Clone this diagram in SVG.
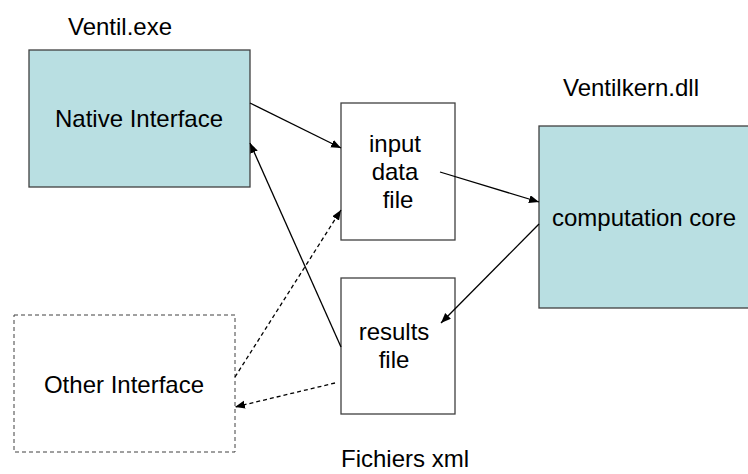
<svg xmlns="http://www.w3.org/2000/svg" width="748" height="474" viewBox="0 0 748 474">
<style>
text{font-family:"Liberation Sans",Arial,sans-serif;font-size:24px;fill:#000}
.core{fill:#b9dfe2;stroke:#404040;stroke-width:1.3}
.file{fill:#fff;stroke:#404040;stroke-width:1.3}
.other{fill:#fff;stroke:#404040;stroke-width:1;stroke-dasharray:4,3}
.c{fill:none;stroke:#000;stroke-width:1.3;marker-end:url(#ah)}
.d{stroke-dasharray:4,3}
</style>
<defs>
<marker id="ah" markerUnits="userSpaceOnUse" markerWidth="12" markerHeight="10" refX="10" refY="4" orient="auto">
<path d="M0,0 L10,4 L0,8 z" fill="#000"/>
</marker>
</defs>
<text x="120" y="35" text-anchor="middle">Ventil.exe</text>
<text x="631" y="96" text-anchor="middle">Ventilkern.dll</text>
<text x="405" y="467" text-anchor="middle" font-size="23">Fichiers xml</text>
<g id="native">
<rect class="core" x="29" y="50" width="221" height="137"/>
<text x="139" y="127" text-anchor="middle">Native Interface</text>
</g>
<g id="input">
<rect class="file" x="341" y="103" width="114" height="137"/>
<text x="395" y="152" text-anchor="middle">input</text>
<text x="395" y="180" text-anchor="middle">data</text>
<text x="398" y="208" text-anchor="middle">file</text>
</g>
<g id="core">
<rect class="core" x="539" y="126" width="215" height="182"/>
<text x="644" y="226" text-anchor="middle">computation core</text>
</g>
<g id="results">
<rect class="file" x="341" y="278" width="114" height="136"/>
<text x="394" y="340" text-anchor="middle">results</text>
<text x="394" y="368" text-anchor="middle">file</text>
</g>
<g id="other">
<rect class="other" x="14" y="315" width="221" height="137"/>
<text x="124" y="393" text-anchor="middle">Other Interface</text>
</g>
<g id="connectors">
<line class="c" x1="250" y1="103" x2="341" y2="148"/>
<line class="c" x1="440" y1="172" x2="539" y2="202"/>
<line class="c" x1="539" y1="224" x2="441" y2="323"/>
<line class="c" x1="341" y1="347" x2="250" y2="143"/>
<line class="c d" x1="235" y1="377" x2="341" y2="210"/>
<line class="c d" x1="335" y1="383" x2="235" y2="407"/>
</g>
</svg>
